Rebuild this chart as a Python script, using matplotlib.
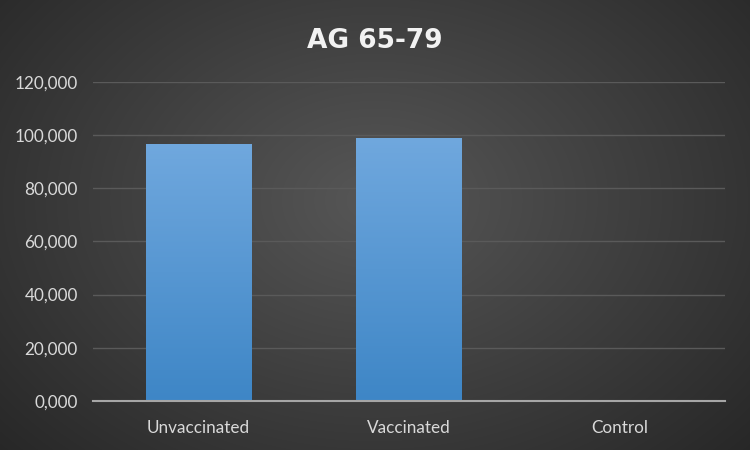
import numpy as np
import matplotlib
matplotlib.use("Agg")
import matplotlib.pyplot as plt
from matplotlib.ticker import FuncFormatter

categories = ["Unvaccinated", "Vaccinated", "Control"]
values = [96700, 99000, 0]
yticks = [0, 20000, 40000, 60000, 80000, 100000, 120000]

plt.rcParams['font.family'] = ['Lato', 'DejaVu Sans']

fig = plt.figure(figsize=(7.5, 4.5), dpi=100)

# radial background gradient
bg = fig.add_axes([0, 0, 1, 1], zorder=-10)
yy, xx = np.mgrid[0:450, 0:750]
r = np.sqrt(((xx - 375) / 520.0) ** 2 + ((yy - 200) / 380.0) ** 2)
shade = np.clip(0.34 - 0.19 * r, 0.13, 0.34)
bg.imshow(np.dstack([shade] * 3), aspect="auto", extent=[0, 1, 0, 1])
bg.axis("off")

ax = fig.add_axes([0.124, 0.109, 0.843, 0.709])
ax.patch.set_alpha(0)
x = np.arange(len(categories))
bars = ax.bar(x, values, width=0.5, color="#5b9bd5", zorder=3)

# vertical gradient in bars
grad = np.linspace(0, 1, 256).reshape(-1, 1)
top = np.array([0x70, 0xa8, 0xde]) / 255
bot = np.array([0x3e, 0x86, 0xc6]) / 255
img = bot + (top - bot) * grad[:, :, None]
for b in bars:
    if b.get_height() <= 0:
        continue
    x0, y0 = b.get_x(), b.get_y()
    im = ax.imshow(img, origin="lower", aspect="auto", zorder=4,
                   extent=[x0, x0 + b.get_width(), y0, y0 + b.get_height()])
    im.set_clip_path(b)

ax.set_xlim(-0.5, 2.5)
ax.set_ylim(0, 120000)
ax.set_yticks(yticks)
ax.yaxis.set_major_formatter(FuncFormatter(lambda v, p: "{:,.0f}".format(v) if v else "0,000"))
ax.set_xticks(x)
ax.set_xticklabels(categories)
ax.tick_params(colors="#d9d9d9", labelsize=12.3, length=0)
ax.tick_params(axis="x", pad=14)
ax.tick_params(axis="y", pad=11)
for lab in ax.get_xticklabels() + ax.get_yticklabels():
    lab.set_color("#d9d9d9")

ax.grid(axis="y", color="#5a5a5a", linewidth=1, zorder=0)
for s in ["top", "right", "left"]:
    ax.spines[s].set_visible(False)
ax.spines["bottom"].set_color("#a6a6a6")
ax.spines["bottom"].set_linewidth(1.5)
ax.spines["bottom"].set_zorder(5)

fig.text(0.5, 0.91, "AG 65-79", ha="center", va="center", color="#f2f2f2",
         fontsize=19, fontweight="bold", family=["DejaVu Sans"])

fig.savefig("out.png", dpi=100)
